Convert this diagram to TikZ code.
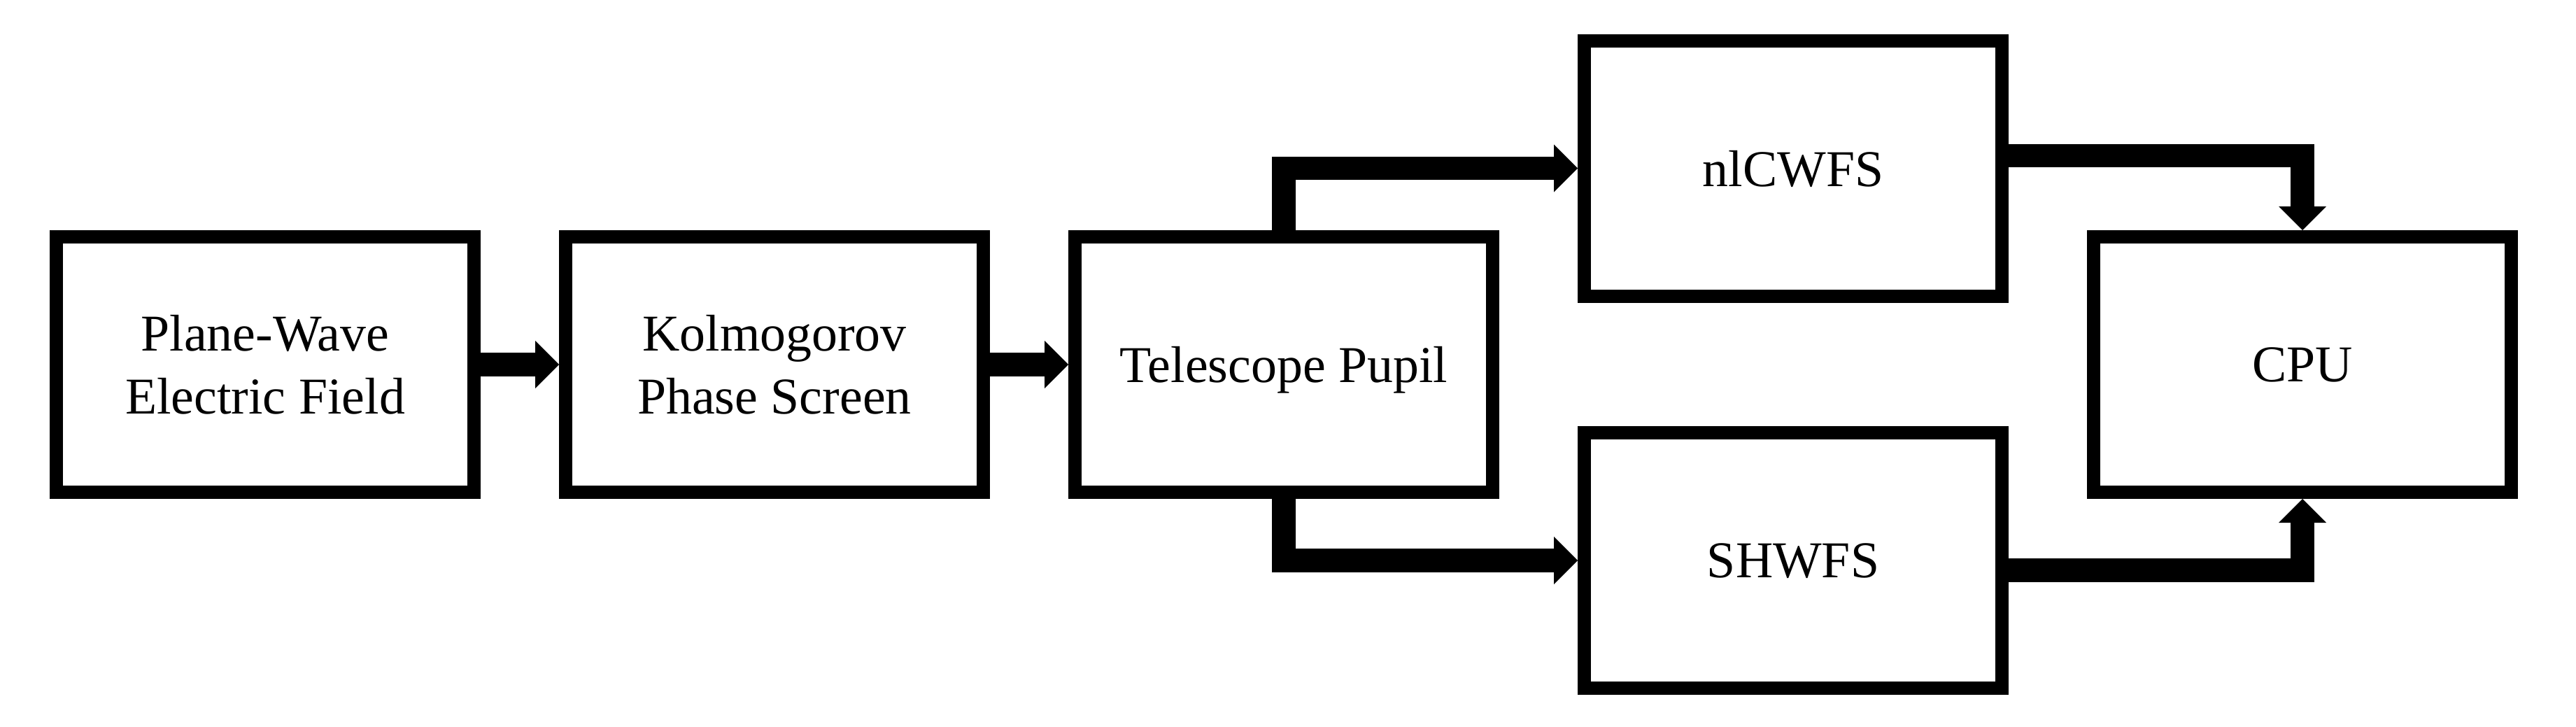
\documentclass[tikz,border=0pt]{standalone}
\usepackage{fontspec}
\setmainfont{Liberation Serif}
\usetikzlibrary{calc,arrows.meta,positioning}

\begin{document}
\begin{tikzpicture}[
    block/.style={draw, line width=0.19cm, minimum width=5.97cm, minimum height=3.65cm,
        inner sep=0pt, align=center, font=\fontsize{21}{25.6}\selectfont},
    oneline/.style={text depth=0pt},
    flow/.style={line width=0.335cm, -{Triangle[length=0.34cm,width=0.68cm,line width=0pt]}},
    node distance=1.12cm
]
    \useasboundingbox (0,0) rectangle (36.82,10.38);

    % simulation chain
    \node[block] (wave) at (3.79,5.17) {Plane-Wave\\Electric Field};
    \node[block, right=of wave] (phase) {Kolmogorov\\Phase Screen};
    \node[block, oneline, right=of phase] (pupil) {Telescope Pupil};

    % wavefront sensors and cpu
    \node[block, oneline, right=of pupil, yshift=2.805cm] (nlcwfs) {nlCWFS};
    \node[block, oneline, right=of pupil, yshift=-2.80cm] (shwfs) {SHWFS};
    \node[block, oneline, right=8.40cm of pupil] (cpu) {CPU};

    % arrows
    \draw[flow] (wave.east) -- (phase.west);
    \draw[flow] (phase.east) -- (pupil.west);
    \draw[flow] (pupil.north) |- (nlcwfs.west);
    \draw[flow] (pupil.south) |- (shwfs.west);
    \draw[flow] ($(nlcwfs.east)+(0,0.18)$) -| (cpu.north);
    \draw[flow] ($(shwfs.east)+(0,-0.14)$) -| (cpu.south);
\end{tikzpicture}
\end{document}
